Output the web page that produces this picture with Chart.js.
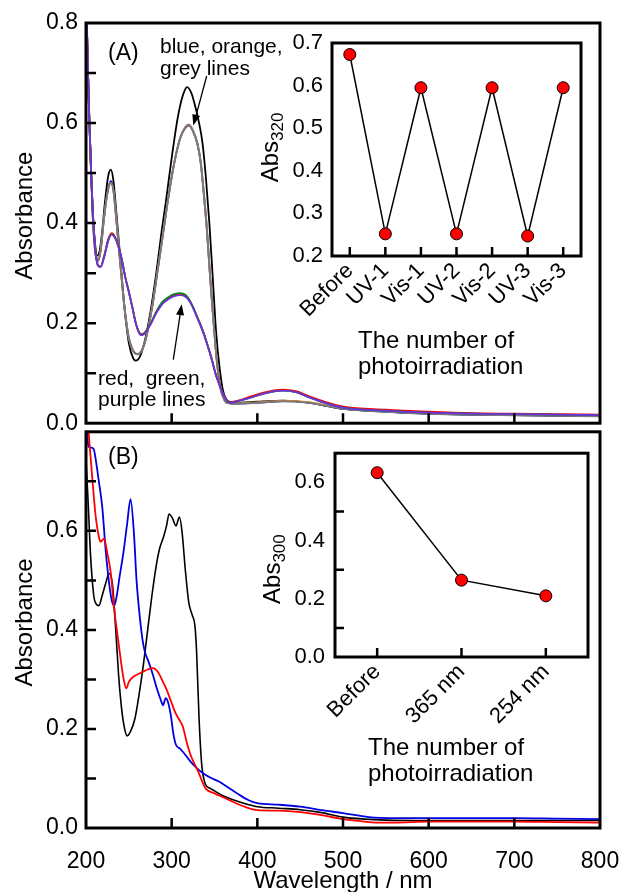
<!DOCTYPE html>
<html lang="en">
<head>
<meta charset="UTF-8">
<title>UV-Vis spectra</title>
<script src="https://cdn.jsdelivr.net/npm/chart.js"></script>
<style>
  body { margin: 0; background: #fff; }
  #wrap { position: relative; width: 622px; height: 892px; overflow: hidden; }
  canvas { position: absolute; }
  #chartA { left: 0; top: 0; }
  #chartB { left: 0; top: 410px; }
  #insetA { left: 230px; top: 20px; }
  #insetB { left: 230px; top: 430px; }
</style>
</head>
<body>
<div id="wrap">
  <canvas id="chartA" width="660" height="445"></canvas>
  <canvas id="chartB" width="660" height="482"></canvas>
  <canvas id="insetA" width="380" height="370"></canvas>
  <canvas id="insetB" width="380" height="360"></canvas>
</div>
<script>
// ---- panel (A) spectra ----
const wlA_before = [200,202,204,206,208,210,213,216,219,222,226,229,232,235,240,245,250,255,258,262,268,275,282,288,293,300,307,313,318,323,328,332,336,340,344,348,352,356,360,366,375,390,400,430,460,480,500,550,600,650,700,750,800];
const absA_before = [0.88,0.72,0.6,0.5,0.42,0.37,0.335,0.345,0.385,0.44,0.495,0.507,0.485,0.43,0.33,0.23,0.16,0.13,0.125,0.13,0.16,0.22,0.3,0.38,0.44,0.53,0.61,0.655,0.672,0.66,0.63,0.6,0.56,0.49,0.4,0.29,0.18,0.11,0.065,0.044,0.041,0.042,0.043,0.045,0.041,0.035,0.029,0.023,0.019,0.017,0.016,0.015,0.014];

const wlA_vis = [200,202,204,206,208,211,214,217,221,225,229,232,235,240,245,250,255,260,265,270,277,284,290,296,303,310,316,320,325,330,334,338,341,345,349,353,357,362,367,375,390,410,430,460,480,500,550,600,650,700,750,800];
const absA_grey = [0.88,0.72,0.6,0.5,0.41,0.34,0.325,0.345,0.41,0.46,0.48,0.465,0.415,0.32,0.23,0.17,0.145,0.138,0.145,0.17,0.23,0.31,0.38,0.45,0.52,0.57,0.592,0.597,0.585,0.56,0.52,0.45,0.39,0.29,0.2,0.12,0.07,0.045,0.04,0.039,0.04,0.042,0.044,0.041,0.035,0.029,0.023,0.019,0.017,0.016,0.015,0.014];
const absA_blue = [0.88,0.72,0.6,0.5,0.41,0.34,0.324,0.345,0.41,0.462,0.484,0.468,0.415,0.32,0.23,0.17,0.145,0.138,0.145,0.17,0.23,0.31,0.38,0.45,0.52,0.57,0.59,0.595,0.583,0.558,0.52,0.45,0.39,0.29,0.2,0.12,0.07,0.045,0.04,0.039,0.04,0.042,0.044,0.041,0.035,0.029,0.023,0.019,0.017,0.016,0.015,0.014];
const absA_orange = [0.88,0.72,0.6,0.5,0.41,0.34,0.325,0.345,0.41,0.46,0.481,0.466,0.415,0.32,0.23,0.17,0.145,0.138,0.145,0.17,0.23,0.31,0.38,0.45,0.52,0.57,0.591,0.596,0.584,0.559,0.52,0.45,0.39,0.29,0.2,0.12,0.07,0.045,0.04,0.04,0.041,0.043,0.045,0.042,0.036,0.03,0.024,0.02,0.018,0.017,0.016,0.015];

const wlA_uv = [200,202,204,206,208,211,214,217,221,226,230,234,238,242,246,250,254,258,261,264,268,275,282,289,296,303,310,316,320,324,330,336,341,347,351,355,360,367,375,390,410,429,445,460,480,500,550,600,650,700,750,800];
const absA_purple = [0.88,0.72,0.6,0.5,0.42,0.345,0.315,0.312,0.33,0.365,0.377,0.37,0.352,0.325,0.29,0.262,0.232,0.2,0.184,0.176,0.178,0.196,0.22,0.238,0.248,0.254,0.256,0.253,0.246,0.234,0.21,0.185,0.16,0.126,0.1,0.08,0.058,0.041,0.043,0.05,0.06,0.065,0.062,0.052,0.04,0.031,0.025,0.021,0.019,0.018,0.017,0.016];
const absA_green = [0.88,0.72,0.6,0.5,0.42,0.345,0.315,0.313,0.332,0.366,0.378,0.371,0.353,0.326,0.291,0.263,0.233,0.201,0.185,0.177,0.18,0.198,0.223,0.242,0.252,0.258,0.26,0.257,0.249,0.236,0.212,0.187,0.161,0.127,0.1,0.08,0.058,0.041,0.043,0.05,0.06,0.065,0.062,0.052,0.04,0.031,0.025,0.021,0.019,0.018,0.017,0.016];
const absA_red = [0.88,0.72,0.6,0.5,0.42,0.346,0.316,0.313,0.333,0.368,0.38,0.372,0.353,0.326,0.291,0.263,0.233,0.201,0.185,0.178,0.18,0.197,0.221,0.24,0.25,0.256,0.258,0.255,0.247,0.235,0.211,0.186,0.161,0.127,0.101,0.081,0.059,0.042,0.044,0.052,0.062,0.067,0.064,0.054,0.042,0.033,0.027,0.023,0.02,0.019,0.018,0.017];

// ---- panel (B) spectra ----
const wlB_before = [200,203,205,209,212,215,219,223,227,231,234,238,241,244,248,252,257,262,267,272,277,282,286,290,294,297,301,305,309,312,316,320,324,327,329,332,335,339,345,350,360,375,390,400,425,450,475,500,525,550,600,650,700,750,800];
const absB_before = [0.745,0.64,0.56,0.47,0.452,0.449,0.47,0.494,0.514,0.49,0.42,0.31,0.25,0.21,0.186,0.195,0.22,0.27,0.33,0.4,0.47,0.53,0.565,0.585,0.61,0.634,0.625,0.61,0.628,0.6,0.52,0.455,0.43,0.41,0.36,0.22,0.13,0.09,0.08,0.075,0.065,0.055,0.047,0.043,0.04,0.037,0.031,0.022,0.018,0.016,0.015,0.015,0.015,0.015,0.015];

const wlB_365 = [200,203,207,211,215,217,221,225,229,233,236,241,244,247,250,255,260,266,272,278,284,289,294,299,304,309,313,318,322,327,332,336,340,350,360,375,390,400,425,450,475,500,520,540,560,600,650,700,750,800];
const absB_365 = [0.85,0.8,0.714,0.634,0.588,0.578,0.584,0.554,0.514,0.44,0.4,0.334,0.3,0.282,0.295,0.305,0.31,0.315,0.32,0.323,0.315,0.298,0.28,0.257,0.234,0.218,0.205,0.17,0.148,0.128,0.11,0.092,0.079,0.07,0.062,0.05,0.04,0.036,0.035,0.032,0.026,0.018,0.014,0.011,0.011,0.013,0.013,0.013,0.012,0.011];

const wlB_254 = [200,203,206,209,211,215,219,223,227,230,233,236,239,244,248,252,256,259,262,266,269,273,278,283,287,290,293,295,299,302,305,310,315,322,330,337,345,355,365,378,390,400,425,450,475,500,530,560,600,650,700,750,800];
const absB_254 = [0.83,0.77,0.768,0.765,0.748,0.7,0.648,0.56,0.494,0.46,0.449,0.47,0.505,0.56,0.614,0.664,0.594,0.5,0.44,0.38,0.354,0.336,0.31,0.28,0.26,0.248,0.262,0.258,0.228,0.19,0.168,0.16,0.15,0.134,0.12,0.11,0.102,0.094,0.083,0.068,0.056,0.05,0.047,0.043,0.036,0.03,0.022,0.02,0.02,0.02,0.02,0.019,0.018];

// ---- insets ----
const insetA_labels = ['Before', 'UV-1', 'Vis-1', 'UV-2', 'Vis-2', 'UV-3', 'Vis-3'];
const insetA_abs320 = [0.673, 0.252, 0.595, 0.252, 0.595, 0.247, 0.595];
const insetB_labels = ['Before', '365 nm', '254 nm'];
const insetB_abs300 = [0.633, 0.264, 0.21];

const FONT = '"Liberation Sans", Arial, sans-serif';
Chart.defaults.font.family = FONT;
Chart.defaults.color = '#000';

const xy = (xs, ys) => xs.map((x, i) => ({x: x, y: ys[i]}));
const even = v => Math.round(v * 10) % 2 === 0;

function drawArrow(ctx, x0, y0, x1, y1) {
  const ang = Math.atan2(y1 - y0, x1 - x0);
  const len = 11, half = 4;
  ctx.lineWidth = 1.3;
  ctx.beginPath();
  ctx.moveTo(x0, y0);
  ctx.lineTo(x1 - Math.cos(ang) * len * 0.8, y1 - Math.sin(ang) * len * 0.8);
  ctx.stroke();
  ctx.beginPath();
  ctx.moveTo(x1, y1);
  ctx.lineTo(x1 - Math.cos(ang) * len - Math.sin(ang) * half, y1 - Math.sin(ang) * len + Math.cos(ang) * half);
  ctx.lineTo(x1 - Math.cos(ang) * len + Math.sin(ang) * half, y1 - Math.sin(ang) * len - Math.cos(ang) * half);
  ctx.closePath();
  ctx.fill();
}

// frame round the plot area plus inward tick marks
const frameTicks = {
  id: 'frameTicks',
  afterDraw(chart, args, opts) {
    const {ctx, chartArea: a, scales: {x, y}} = chart;
    ctx.save();
    ctx.strokeStyle = '#000';
    ctx.lineWidth = opts.tickWidth;
    ctx.beginPath();
    if (opts.xTicks) x.ticks.forEach((t, i) => {
      const px = x.getPixelForTick(i);
      if (px <= a.left + 1 || px >= a.right - 1) return;
      ctx.moveTo(px, a.bottom);
      ctx.lineTo(px, a.bottom - opts.tickLen);
    });
    if (opts.yTicks) y.ticks.forEach((t, i) => {
      if (opts.yTicks === 'minor' && even(t.value)) return;
      const py = y.getPixelForTick(i);
      if (py <= a.top + 1 || py >= a.bottom - 1) return;
      ctx.moveTo(a.left, py);
      ctx.lineTo(a.left + opts.tickLen, py);
    });
    ctx.stroke();
    ctx.lineWidth = opts.frameWidth;
    ctx.strokeRect(a.left, a.top, a.right - a.left, a.bottom - a.top);
    ctx.restore();
  }
};

// texts and arrows placed in data units of the main panels
const annotate = {
  id: 'annotate',
  afterDraw(chart, args, opts) {
    const {ctx, chartArea: a, scales: {x, y}} = chart;
    ctx.save();
    ctx.fillStyle = '#000';
    ctx.strokeStyle = '#000';
    ctx.textBaseline = 'alphabetic';
    (opts.texts || []).forEach(t => {
      ctx.font = t.size + 'px ' + FONT;
      ctx.textAlign = 'left';
      ctx.fillText(t.text, x.getPixelForValue(t.x), y.getPixelForValue(t.y));
    });
    (opts.arrows || []).forEach(r => drawArrow(ctx,
      x.getPixelForValue(r.x0), y.getPixelForValue(r.y0),
      x.getPixelForValue(r.x1), y.getPixelForValue(r.y1)));
    ctx.font = '24px ' + FONT;
    ctx.textAlign = 'center';
    ctx.save();
    ctx.translate(a.left - 54, y.getPixelForValue(0.415));
    ctx.rotate(-Math.PI / 2);
    ctx.fillText('Absorbance', 0, 0);
    ctx.restore();
    if (opts.xTitle) ctx.fillText(opts.xTitle, (a.left + a.right) / 2, a.bottom + 60);
    ctx.restore();
  }
};

// inset axis titles (subscript + two-line title)
const insetText = {
  id: 'insetText',
  afterDraw(chart, args, opts) {
    const {ctx, chartArea: a} = chart;
    ctx.save();
    ctx.fillStyle = '#000';
    ctx.textBaseline = 'alphabetic';
    ctx.textAlign = 'left';
    ctx.translate(a.left - opts.titleDx, (a.top + a.bottom) / 2 + opts.titleDy);
    ctx.rotate(-Math.PI / 2);
    ctx.font = '24px ' + FONT;
    const w1 = ctx.measureText('Abs').width;
    ctx.font = '17px ' + FONT;
    const w2 = ctx.measureText(opts.sub).width;
    const s = -(w1 + w2) / 2;
    ctx.font = '24px ' + FONT;
    ctx.fillText('Abs', s, 0);
    ctx.font = '17px ' + FONT;
    ctx.fillText(opts.sub, s + w1, 5);
    ctx.restore();
    ctx.save();
    ctx.fillStyle = '#000';
    ctx.font = '24px ' + FONT;
    ctx.textAlign = 'left';
    ctx.fillText('The number of', a.left + opts.lineDx, a.bottom + opts.lineDy);
    ctx.fillText('photoirradiation', a.left + opts.lineDx, a.bottom + opts.lineDy + 26);
    ctx.restore();
  }
};

function line(data, color, width) {
  return { data: data, borderColor: color, borderWidth: width, pointRadius: 0,
           cubicInterpolationMode: 'monotone', fill: false };
}

function spectrumOptions(padTop, xHeight, showX, yLabel, extra) {
  return {
    responsive: false, animation: false, devicePixelRatio: 1,
    layout: { padding: { top: padTop, right: 60, left: 0, bottom: 0 } },
    plugins: Object.assign({
      legend: { display: false }, tooltip: { enabled: false },
      frameTicks: { xTicks: true, yTicks: true, tickLen: 10, tickWidth: 2.5, frameWidth: 3 }
    }, extra),
    scales: {
      x: { type: 'linear', min: 200, max: 800,
           grid: { display: false, drawTicks: false }, border: { display: false },
           ticks: { display: showX, stepSize: 100, autoSkip: false, padding: 20, font: { size: 23 } },
           afterFit: s => { s.height = xHeight; } },
      y: { min: 0, max: 0.8,
           grid: { display: false, drawTicks: false }, border: { display: false },
           ticks: { stepSize: 0.1, autoSkip: false, padding: 8, font: { size: 23 },
                    callback: v => (even(v) && yLabel(v)) ? v.toFixed(1) : '' },
           afterFit: s => { s.width = 86; } }
    }
  };
}

new Chart(document.getElementById('chartA'), {
  type: 'line',
  data: { datasets: [
    line(xy(wlA_uv, absA_purple), '#7030e0', 1.8),
    line(xy(wlA_uv, absA_green), '#008a00', 1.8),
    line(xy(wlA_uv, absA_red), '#ff0000', 1.8),
    line(xy(wlA_vis, absA_grey), '#7a7a7a', 2),
    line(xy(wlA_vis, absA_orange), '#ff8c00', 1.8),
    line(xy(wlA_vis, absA_blue), '#0000ff', 1.8),
    line(xy(wlA_before, absA_before), '#000000', 1.8)
  ] },
  options: spectrumOptions(23, 18, false, v => true, {
    annotate: {
      texts: [
        { text: '(A)', size: 23, x: 225.7, y: 0.727 },
        { text: 'blue, orange,', size: 21, x: 286.4, y: 0.741 },
        { text: 'grey lines', size: 21, x: 286.4, y: 0.697 },
        { text: 'red,  green,', size: 21, x: 214, y: 0.077 },
        { text: 'purple lines', size: 21, x: 214, y: 0.034 }
      ],
      arrows: [
        { x0: 340.9, y0: 0.694, x1: 325.3, y1: 0.595 },
        { x0: 301.9, y0: 0.127, x1: 311.7, y1: 0.238 }
      ]
    }
  }),
  plugins: [frameTicks, annotate]
});

new Chart(document.getElementById('chartB'), {
  type: 'line',
  data: { datasets: [
    line(xy(wlB_365, absB_365), '#ff0000', 1.8),
    line(xy(wlB_254, absB_254), '#0000e0', 1.8),
    line(xy(wlB_before, absB_before), '#000000', 1.6)
  ] },
  options: spectrumOptions(17, 64, true, v => v < 0.75, {
    annotate: {
      texts: [ { text: '(B)', size: 23, x: 225.7, y: 0.735 } ],
      xTitle: 'Wavelength / nm'
    }
  }),
  plugins: [frameTicks, annotate]
});

function insetOptions(pad, xHeight, yWidth, yMin, yMax, yLabel, labelPad, yTicks, text) {
  return {
    responsive: false, animation: false, devicePixelRatio: 1,
    layout: { padding: pad },
    plugins: {
      legend: { display: false }, tooltip: { enabled: false },
      frameTicks: { xTicks: true, yTicks: yTicks, tickLen: 9, tickWidth: 2.5, frameWidth: 3 },
      insetText: text
    },
    scales: {
      x: { offset: true, grid: { display: false, drawTicks: false }, border: { display: false },
           ticks: { autoSkip: false, minRotation: 45, maxRotation: 45, padding: 2, font: { size: 22 } },
           afterFit: s => { s.height = xHeight; } },
      y: { min: yMin, max: yMax, grid: { display: false, drawTicks: false }, border: { display: false },
           ticks: { stepSize: 0.1, autoSkip: false, padding: labelPad, font: { size: 22 },
                    callback: v => yLabel(v) ? v.toFixed(1) : '' },
           afterFit: s => { s.width = yWidth; } }
    }
  };
}

function insetSet(values) {
  return { data: values, borderColor: '#000', borderWidth: 1.5, tension: 0, clip: false,
           pointRadius: 6, pointBackgroundColor: '#ff0000', pointBorderColor: '#000', pointBorderWidth: 1 };
}

new Chart(document.getElementById('insetA'), {
  type: 'line',
  data: { labels: insetA_labels, datasets: [insetSet(insetA_abs320)] },
  options: insetOptions({ top: 23, right: 29, left: 0, bottom: 0 }, 134, 102, 0.2, 0.7,
    v => true, 9, false, { sub: '320', titleDx: 54, titleDy: -2, lineDx: 26, lineDy: 92 }),
  plugins: [frameTicks, insetText]
});

new Chart(document.getElementById('insetB'), {
  type: 'line',
  data: { labels: insetB_labels, datasets: [insetSet(insetB_abs300)] },
  options: insetOptions({ top: 14, right: 22, left: 0, bottom: 0 }, 133, 105, 0, 0.7,
    v => even(v) && v < 0.65, 10, 'minor', { sub: '300', titleDx: 55, titleDy: 14, lineDx: 33, lineDy: 98 }),
  plugins: [frameTicks, insetText]
});
</script>
</body>
</html>
